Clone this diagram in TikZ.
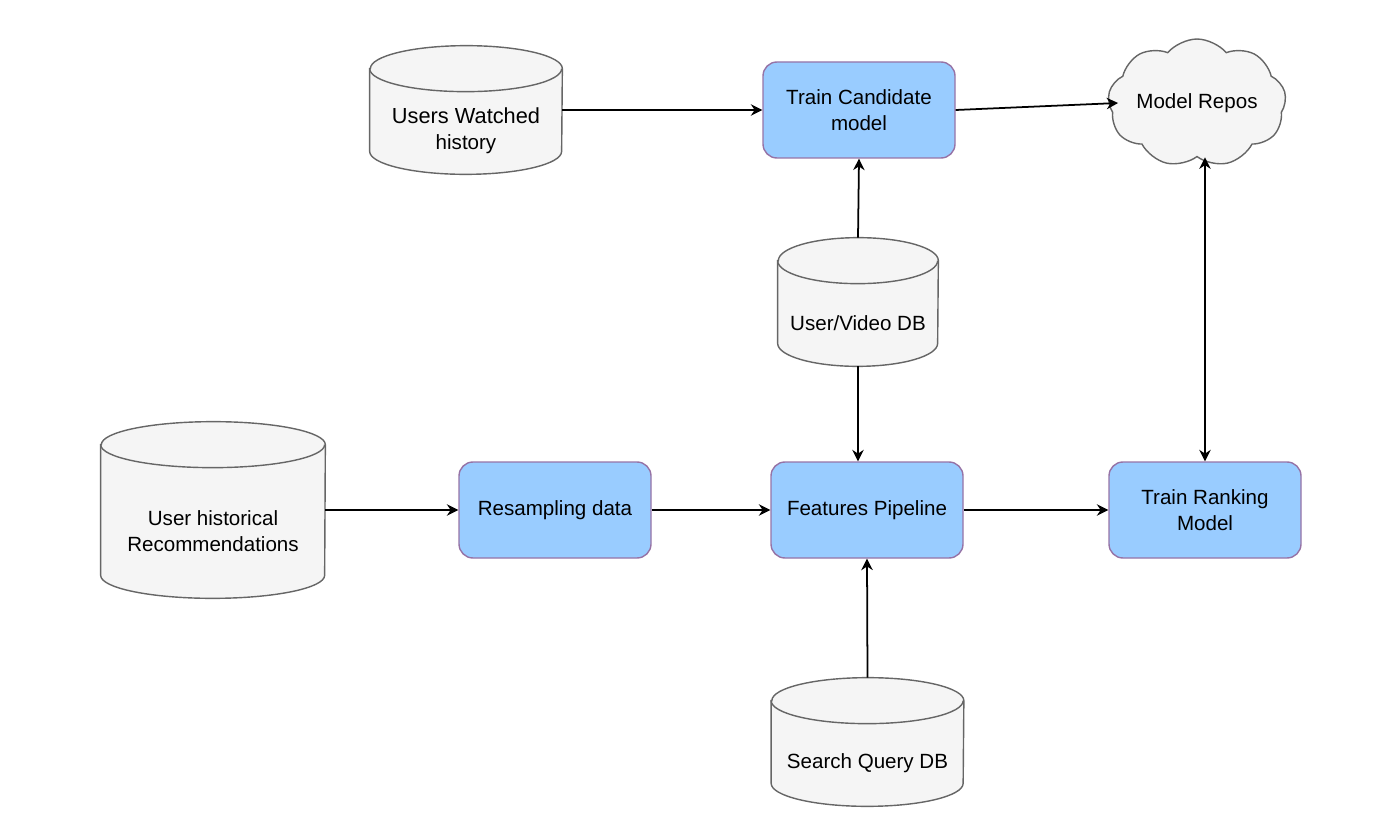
\documentclass[tikz,border=0pt]{standalone}
\usepackage{fontspec}
\setmainfont{Liberation Sans}
\usetikzlibrary{shapes.symbols, arrows.meta}

\definecolor{boxfill}{HTML}{99CCFF}
\definecolor{boxline}{HTML}{9673A6}
\definecolor{dbfill}{HTML}{F5F5F5}
\definecolor{dbdraw}{HTML}{666666}

\newcommand{\dbry}{0.46cm}
% cylinder store: name, position, width, height, text
\newcommand{\dbcyl}[5]{%
  \node[draw=none, inner sep=0pt, minimum width=#3, minimum height=#4] (#1) at (#2) {};
  \filldraw[fill=dbfill, draw=dbdraw, line width=0.8pt]
    ([yshift=-\dbry]#1.north west) -- ([yshift=\dbry]#1.south west)
    arc[start angle=180, end angle=360, x radius=#3/2, y radius=\dbry]
    -- ([yshift=-\dbry]#1.north east)
    arc[start angle=0, end angle=180, x radius=#3/2, y radius=\dbry] -- cycle;
  \draw[draw=dbdraw, line width=0.8pt] ([yshift=-\dbry]#1.north west)
    arc[start angle=180, end angle=360, x radius=#3/2, y radius=\dbry];
  \node[align=center] (#1-txt) at ([yshift=-0.42cm]#1.center) {#5};
}

\begin{document}
\begin{tikzpicture}[every node/.style={font=\fontsize{11.7}{14.7}\selectfont},
  stepbox/.style={draw=boxline, fill=boxfill, line width=0.8pt, rounded corners=0.28cm,
    align=center, minimum width=3.84cm, minimum height=1.92cm},
  >={Stealth[length=6.5pt, width=6.5pt]}]
  \useasboundingbox (0,0) rectangle (27.88,-16.66);

  \dbcyl{uwh}{9.32,-2.20}{3.84cm}{2.56cm}{\fontsize{12.4}{15.3}\selectfont Users Watched\\ history}
  \dbcyl{uvdb}{17.16,-6.04}{3.2cm}{2.56cm}{User/Video DB}
  \dbcyl{uhr}{4.26,-10.20}{4.48cm}{3.52cm}{User historical\\ Recommendations}
  \dbcyl{sq}{17.35,-14.84}{3.84cm}{2.56cm}{Search Query DB}

  \node[stepbox] (cand) at (17.18,-2.20) {Train Candidate\\ model};
  \node[stepbox] (resamp) at (11.10,-10.20) {Resampling data};
  \node[stepbox] (feat) at (17.34,-10.20) {Features Pipeline};
  \node[stepbox] (rank) at (24.10,-10.20) {Train Ranking\\ Model};

  \node[cloud, cloud puffs=9, cloud puff arc=100, aspect=1.6, draw=dbdraw, fill=dbfill,
    line width=0.8pt, minimum width=3.2cm, minimum height=1.75cm, inner sep=0pt]
    (repos) at (23.94,-2.06) {Model Repos};

  \draw[->, line width=1pt] (uwh) -- (cand);
  \draw[->, line width=1pt] (cand.east) -- ([xshift=0.2cm]repos.west);
  \draw[->, line width=1pt] (uvdb.north) -- (cand.south);
  \draw[->, line width=1pt] (uvdb.south) -- (uvdb.south |- feat.north);
  \draw[->, line width=1pt] (uhr) -- (resamp);
  \draw[->, line width=1pt] (resamp) -- (feat);
  \draw[->, line width=1pt] (feat) -- (rank);
  \draw[->, line width=1pt] (sq.north) -- (feat.south);
  \draw[<->, line width=1pt] (rank.north) -- (rank.north |- repos.south);
\end{tikzpicture}
\end{document}
